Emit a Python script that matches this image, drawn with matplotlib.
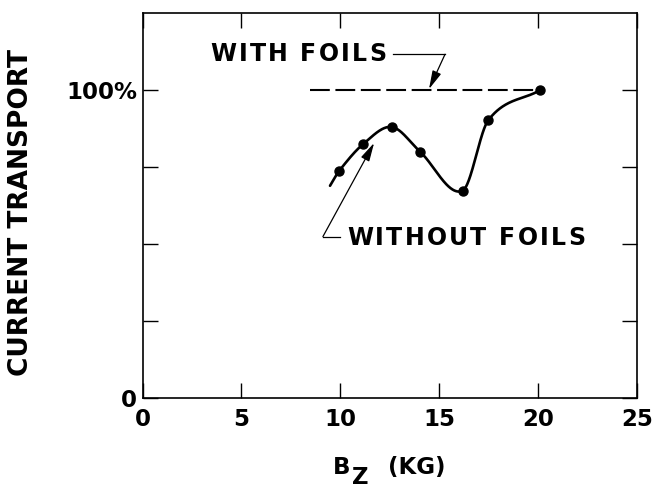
import numpy as np
import matplotlib
matplotlib.use("Agg")
from matplotlib import pyplot as plt
from matplotlib import font_manager
from matplotlib.font_manager import FontProperties
from matplotlib.transforms import offset_copy

plt.rcParams['font.family'] = ['DejaVu Sans']
plt.rcParams['font.weight'] = 'bold'

# measured points without foils (B_z in kG, transport in %)
bz = [9.95, 11.15, 12.6, 14.03, 16.19, 17.49, 20.1]
transport = [73.9, 82.5, 88.1, 80.1, 67.4, 90.3, 100.0]
# hand-drawn curve begins a little below the first point
curve_start = (9.48, 69.0)

# level with foils
foil_bz = [8.47, 20.1]
foil_level = [100.0, 100.0]

xticks = [0, 5, 10, 15, 20, 25]
yticks = [0, 25, 50, 75, 100]
ytick_labels = ['0', '', '', '', '100%']


def smooth_curve(xs, ys, num=400):
    # cardinal (Catmull-Rom style) cubic Hermite through the points
    xs = np.asarray(xs, float)
    ys = np.asarray(ys, float)
    n = len(xs)
    m = np.empty(n)
    m[0] = (ys[1] - ys[0]) / (xs[1] - xs[0])
    m[-1] = (ys[-1] - ys[-2]) / (xs[-1] - xs[-2])
    m[1:-1] = (ys[2:] - ys[:-2]) / (xs[2:] - xs[:-2])
    xq = np.linspace(xs[0], xs[-1], num)
    idx = np.clip(np.searchsorted(xs, xq) - 1, 0, n - 2)
    h = xs[idx + 1] - xs[idx]
    t = (xq - xs[idx]) / h
    h00 = 2 * t ** 3 - 3 * t ** 2 + 1
    h10 = t ** 3 - 2 * t ** 2 + t
    h01 = -2 * t ** 3 + 3 * t ** 2
    h11 = t ** 3 - t ** 2
    yq = h00 * ys[idx] + h10 * h * m[idx] + h01 * ys[idx + 1] + h11 * h * m[idx + 1]
    return xq, yq


def spaced_text(ax, x, y, s, size, track):
    # letter-spaced text, one glyph at a time
    prop = FontProperties(family='DejaVu Sans', weight='bold', size=size)
    font = font_manager.get_font(font_manager.findfont(prop))
    font.set_size(size, 72)
    off = 0.0
    for ch in s:
        g = font.load_char(ord(ch))
        adv = g.linearHoriAdvance / 65536.0
        if ch != ' ':
            tr = offset_copy(ax.transData, fig=ax.figure, x=off, y=0, units='points')
            ax.text(x, y, ch, transform=tr, fontproperties=prop,
                    ha='left', va='center', clip_on=False)
        off += adv + track


fig = plt.figure(figsize=(6.54, 4.88), dpi=100)
ax = fig.add_axes([142.7 / 654, 1 - 398.3 / 488, 494 / 654, 385 / 488])

cx, cy = smooth_curve(np.r_[curve_start[0], bz], np.r_[curve_start[1], transport])
ax.plot(cx, cy, color='black', lw=1.9, solid_capstyle='round')
ax.plot(bz, transport, 'o', color='black', markersize=6.5)

ax.plot(foil_bz, foil_level, color='black', lw=1.5, dashes=(9.5, 2.7))

# WITH FOILS label and leader
spaced_text(ax, 3.42, 111.7, 'WITH FOILS', 17, 1.6)
ax.plot([12.67, 15.30], [111.7, 111.7], color='black', lw=0.9)
ax.annotate('', xy=(14.49, 100.4), xytext=(15.30, 111.7),
            arrowprops=dict(arrowstyle='-|>,head_length=0.8,head_width=0.2',
                            color='black', lw=0.9, mutation_scale=14,
                            shrinkA=0, shrinkB=0))

# WITHOUT FOILS label and leader
spaced_text(ax, 10.34, 52.2, 'WITHOUT FOILS', 17, 1.6)
ax.plot([9.99, 9.12], [52.5, 52.5], color='black', lw=0.9)
ax.annotate('', xy=(11.71, 82.9), xytext=(9.12, 52.5),
            arrowprops=dict(arrowstyle='-|>,head_length=0.8,head_width=0.2',
                            color='black', lw=0.9, mutation_scale=14,
                            shrinkA=0, shrinkB=0))

ax.set_xlim(0, 25)
ax.set_ylim(0, 125)
ax.set_xticks(xticks)
ax.set_yticks(yticks)
ax.set_yticklabels(ytick_labels)
ax.tick_params(direction='in', length=11, width=1, top=True, right=True,
               labelsize=16.5)
ax.tick_params(axis='x', pad=7)
ax.tick_params(axis='y', pad=4)
for sp in ax.spines.values():
    sp.set_linewidth(1.2)

# axis titles
ax.text(-6.16, 60.3, 'CURRENT TRANSPORT', rotation=90, fontsize=19,
        fontweight='bold', ha='center', va='center', clip_on=False)
ax.text(9.63, -24.5, 'B', fontsize=16.5, fontweight='bold',
        ha='left', va='baseline', clip_on=False)
ax.text(10.59, -27.8, 'Z', fontsize=16.5, fontweight='bold',
        ha='left', va='baseline', clip_on=False)
ax.text(12.41, -24.5, '(KG)', fontsize=16.5, fontweight='bold',
        ha='left', va='baseline', clip_on=False)

fig.savefig('out.png', dpi=100)
